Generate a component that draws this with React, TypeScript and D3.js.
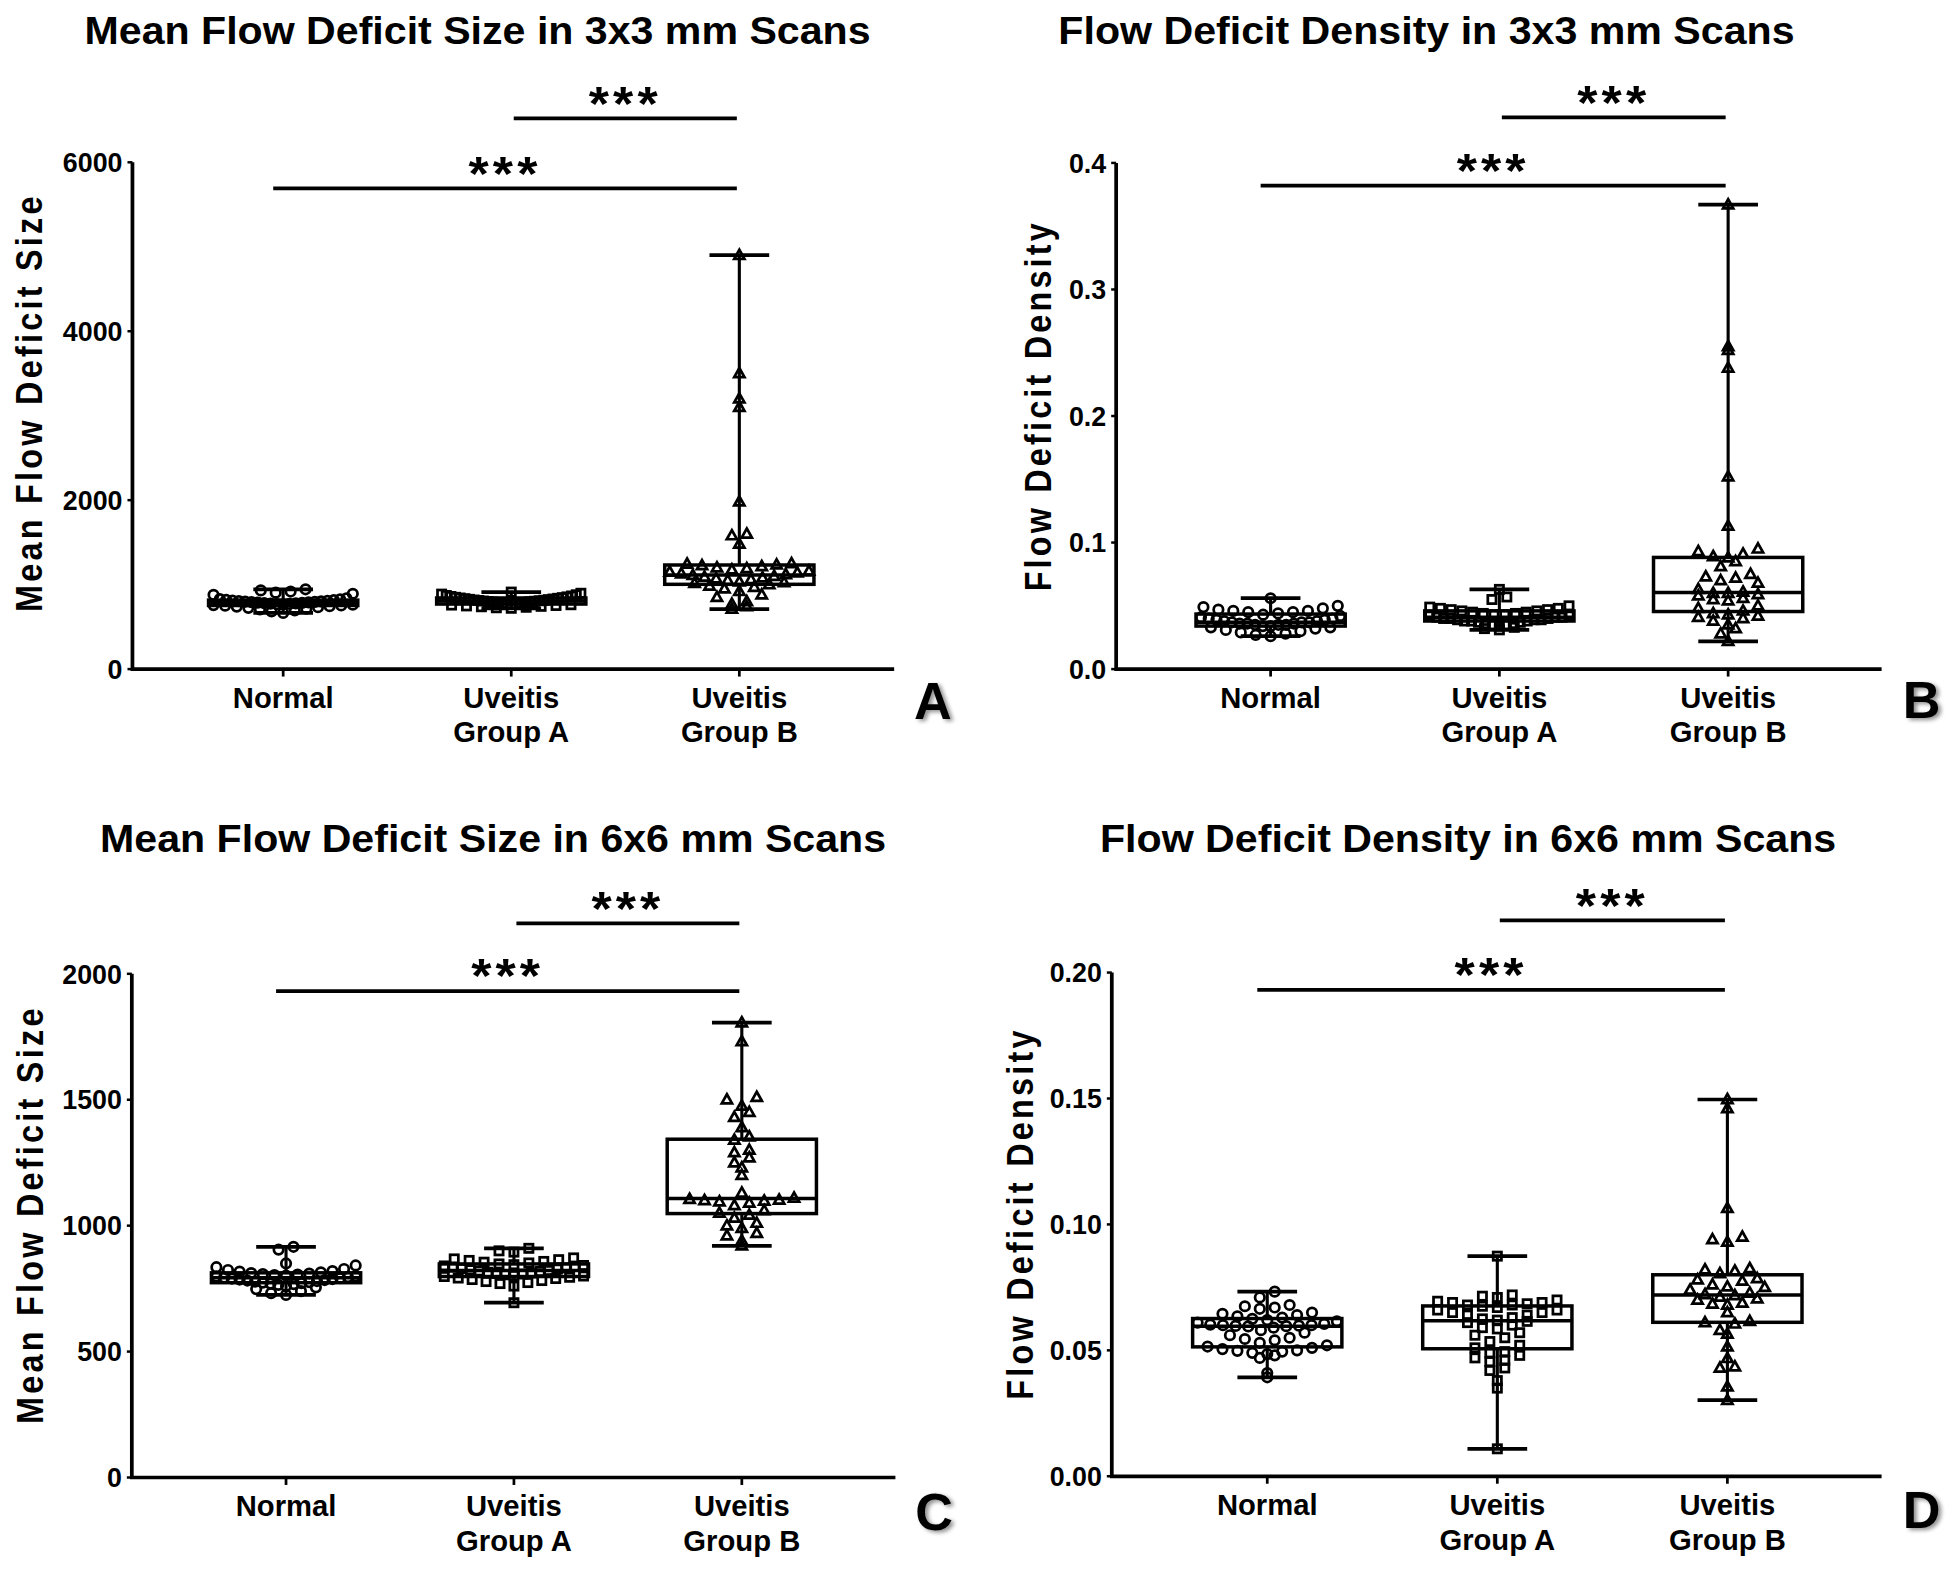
import React from "react";
import * as d3 from "d3";

// ---------- DATA ----------
const categoryLines: string[][] = [["Normal"], ["Uveitis", "Group A"], ["Uveitis", "Group B"]];
const groupShapes = ["circle", "square", "triangle"];

const titles = [
  "Mean Flow Deficit Size in 3x3 mm Scans",
  "Flow Deficit Density in 3x3 mm Scans",
  "Mean Flow Deficit Size in 6x6 mm Scans",
  "Flow Deficit Density in 6x6 mm Scans",
];
const yLabels = ["Mean Flow Deficit Size", "Flow Deficit Density", "Mean Flow Deficit Size", "Flow Deficit Density"];
const panelLetters = ["A", "B", "C", "D"];

const ticksSize3 = [0, 2000, 4000, 6000];
const ticksDens3 = [0, 0.1, 0.2, 0.3, 0.4];
const ticksSize6 = [0, 500, 1000, 1500, 2000];
const ticksDens6 = [0, 0.05, 0.1, 0.15, 0.2];

// Panel A: mean flow deficit size, 3x3
const sizeNormal3 = [945, 932, 918, 905, 892, 880, 838, 830, 825, 820, 816, 812, 808, 805, 802, 799, 796, 793, 790, 787, 784, 781, 778, 775, 772, 769, 766, 762, 758, 754, 750, 745, 740, 733, 725, 716, 706, 695, 682, 665];
const sizeGroupA3 = [912, 898, 888, 880, 872, 866, 860, 855, 850, 846, 842, 838, 834, 830, 826, 822, 818, 815, 812, 809, 806, 803, 800, 797, 794, 790, 786, 782, 778, 774, 770, 766, 762, 758, 753, 748, 743, 738, 732, 726, 720];
const sizeGroupB3 = [4900, 3500, 3200, 3100, 1980, 1600, 1580, 1480, 1250, 1245, 1235, 1225, 1215, 1200, 1190, 1175, 1160, 1150, 1140, 1130, 1120, 1110, 1100, 1090, 1080, 1070, 1060, 1050, 1035, 1025, 1015, 1000, 985, 970, 950, 920, 880, 850, 800, 770, 740, 710];

// Panel B: flow deficit density, 3x3
const densNormal3 = [0.056, 0.05, 0.049, 0.048, 0.047, 0.046, 0.046, 0.045, 0.045, 0.044, 0.043, 0.042, 0.041, 0.04, 0.04, 0.039, 0.039, 0.038, 0.038, 0.037, 0.037, 0.037, 0.036, 0.036, 0.036, 0.035, 0.035, 0.035, 0.034, 0.034, 0.033, 0.033, 0.032, 0.031, 0.03, 0.029, 0.028, 0.027, 0.026];
const densGroupA3 = [0.063, 0.057, 0.055, 0.05, 0.049, 0.048, 0.048, 0.047, 0.047, 0.046, 0.046, 0.045, 0.045, 0.044, 0.044, 0.043, 0.043, 0.042, 0.042, 0.041, 0.041, 0.041, 0.04, 0.04, 0.04, 0.039, 0.039, 0.039, 0.038, 0.038, 0.038, 0.037, 0.037, 0.036, 0.036, 0.035, 0.035, 0.034, 0.033, 0.032, 0.031];
const densGroupB3 = [0.367, 0.255, 0.252, 0.238, 0.152, 0.113, 0.095, 0.093, 0.091, 0.089, 0.088, 0.085, 0.081, 0.075, 0.073, 0.072, 0.07, 0.068, 0.063, 0.061, 0.06, 0.06, 0.059, 0.058, 0.056, 0.055, 0.054, 0.05, 0.048, 0.046, 0.044, 0.043, 0.042, 0.041, 0.04, 0.038, 0.035, 0.032, 0.028, 0.022];

// Panel C: mean flow deficit size, 6x6
const sizeNormal6 = [916, 905, 850, 842, 835, 828, 824, 820, 818, 815, 812, 810, 808, 806, 804, 802, 800, 798, 796, 794, 792, 790, 788, 786, 784, 782, 780, 778, 776, 774, 772, 770, 768, 765, 760, 755, 748, 740, 732, 725];
const sizeGroupA6 = [910, 900, 895, 872, 868, 865, 862, 858, 855, 852, 848, 845, 842, 840, 838, 835, 832, 830, 828, 825, 822, 820, 818, 815, 812, 810, 808, 805, 802, 800, 798, 795, 792, 790, 786, 782, 778, 774, 770, 760, 694];
const sizeGroupB6 = [1806, 1731, 1510, 1500, 1475, 1450, 1430, 1390, 1353, 1340, 1300, 1290, 1270, 1250, 1230, 1200, 1130, 1110, 1105, 1102, 1100, 1098, 1095, 1090, 1080, 1060, 1050, 1042, 1030, 1010, 1000, 990, 970, 960, 940, 920];

// Panel D: flow deficit density, 6x6
const densNormal6 = [0.0733, 0.071, 0.068, 0.0675, 0.067, 0.0665, 0.065, 0.0645, 0.064, 0.0635, 0.063, 0.0625, 0.062, 0.0615, 0.061, 0.0605, 0.0602, 0.06, 0.06, 0.0598, 0.0597, 0.0596, 0.0595, 0.059, 0.058, 0.057, 0.056, 0.055, 0.0545, 0.054, 0.053, 0.052, 0.0515, 0.051, 0.0505, 0.05, 0.0498, 0.0495, 0.049, 0.0485, 0.048, 0.047, 0.041, 0.0393];
const densGroupA6 = [0.0874, 0.072, 0.0715, 0.071, 0.07, 0.0695, 0.069, 0.069, 0.0685, 0.068, 0.068, 0.0675, 0.067, 0.066, 0.066, 0.065, 0.065, 0.064, 0.064, 0.063, 0.0625, 0.062, 0.0615, 0.061, 0.06, 0.059, 0.0585, 0.057, 0.056, 0.055, 0.0535, 0.052, 0.051, 0.0495, 0.049, 0.048, 0.047, 0.046, 0.0455, 0.043, 0.042, 0.038, 0.035, 0.0109];
const densGroupB6 = [0.1496, 0.146, 0.1064, 0.095, 0.094, 0.093, 0.0825, 0.082, 0.0815, 0.0805, 0.0785, 0.078, 0.0775, 0.076, 0.0752, 0.075, 0.074, 0.0728, 0.0722, 0.0718, 0.0712, 0.0705, 0.07, 0.0688, 0.0684, 0.068, 0.065, 0.0615, 0.061, 0.0605, 0.058, 0.0565, 0.0514, 0.0468, 0.0435, 0.043, 0.0355, 0.0302];

// significance brackets (group indices and bar level in data units)
const sigLabel = "***";
const sigSize3 = [{ from: 0, to: 2, value: 5690 }, { from: 1, to: 2, value: 6520 }];
const sigDens3 = [{ from: 0, to: 2, value: 0.382 }, { from: 1, to: 2, value: 0.436 }];
const sigSize6 = [{ from: 0, to: 2, value: 1931 }, { from: 1, to: 2, value: 2200 }];
const sigDens6 = [{ from: 0, to: 2, value: 0.1931 }, { from: 1, to: 2, value: 0.2207 }];

// ---------- STYLE / LAYOUT ----------
const FONT = "'Liberation Sans', Arial, Helvetica, sans-serif";

type Layout = { axisX: number; yTop: number; yBottom: number; xEnd: number; cat0: number; cat2: number };

function swarm(values: number[], y: (v: number) => number, binH: number, step: number, maxHalf: number) {
  const pts = values.map((v) => ({ v, py: y(v), dx: 0 }));
  const bins = d3.group(pts, (p) => Math.floor(p.py / binH));
  for (const [, arr] of bins) {
    arr.sort((a, b) => a.v - b.v);
    const k = arr.length;
    const s = k > 1 ? Math.min(step, (2 * maxHalf) / (k - 1)) : step;
    const slots: number[] = [];
    for (let i = 0; i < k; i++) slots.push((i - (k - 1) / 2) * s);
    slots.sort((a, b) => Math.abs(a) - Math.abs(b) || a - b);
    arr.forEach((p, i) => (p.dx = slots[i]));
  }
  return pts;
}

function Marker({ shape, x, y }: { shape: string; x: number; y: number }) {
  const common = { fill: "none", stroke: "#000", strokeWidth: 2.2 };
  if (shape === "circle") return <circle cx={x} cy={y} r={3.8} {...common} />;
  if (shape === "square") return <rect x={x - 3.3} y={y - 3.3} width={6.6} height={6.6} {...common} />;
  return <path d={`M${x},${y - 4.4} L${x + 4.1},${y + 2.9} L${x - 4.1},${y + 2.9} Z`} {...common} strokeLinejoin="miter" />;
}

function Panel(props: any) {
  const { layout, yMax, ticks, fmt, title, titleX, titleY, titleW, yLabel, yLabelX, yLabelY, yLabelLen, groups, sig, letter, letterX, letterY } = props;
  const L: Layout = layout;
  const y = d3.scaleLinear().domain([0, yMax]).range([L.yBottom, L.yTop]);
  const x = d3.scalePoint<number>().domain([0, 1, 2]).range([L.cat0, L.cat2]);
  const boxHalf = 60;
  const capHalf = 24;

  return (
    <g fontFamily={FONT} fontWeight="bold" fill="#000">
      <text x={titleX} y={titleY} textAnchor="middle" fontSize={31} textLength={titleW} lengthAdjust="spacingAndGlyphs">
        {title}
      </text>
      <text
        transform={`translate(${yLabelX},${yLabelY}) rotate(-90) scale(1,1.12)`}
        textAnchor="middle"
        fontSize={26}
        textLength={yLabelLen}
        lengthAdjust="spacing"
      >
        {yLabel}
      </text>

      {groups.map((vals: number[], gi: number) => {
        const cx = x(gi)!;
        const pts = swarm(vals, y, 9, 12, 56);
        return (
          <g key={"p" + gi}>
            {pts.map((p, i) => (
              <Marker key={i} shape={groupShapes[gi]} x={cx + p.dx} y={p.py} />
            ))}
          </g>
        );
      })}

      {groups.map((vals: number[], gi: number) => {
        const cx = x(gi)!;
        const s = [...vals].sort((a, b) => a - b);
        const q1 = d3.quantileSorted(s, 0.25)!;
        const med = d3.quantileSorted(s, 0.5)!;
        const q3 = d3.quantileSorted(s, 0.75)!;
        const mn = s[0];
        const mx = s[s.length - 1];
        return (
          <g key={"b" + gi} stroke="#000" fill="none">
            <line x1={cx} x2={cx} y1={y(q3)} y2={y(mx)} strokeWidth={2.5} />
            <line x1={cx} x2={cx} y1={y(q1)} y2={y(mn)} strokeWidth={2.5} />
            <line x1={cx - capHalf} x2={cx + capHalf} y1={y(mx)} y2={y(mx)} strokeWidth={3} />
            <line x1={cx - capHalf} x2={cx + capHalf} y1={y(mn)} y2={y(mn)} strokeWidth={3} />
            <rect x={cx - boxHalf} y={y(q3)} width={boxHalf * 2} height={Math.max(0.5, y(q1) - y(q3))} strokeWidth={2.8} />
            <line x1={cx - boxHalf} x2={cx + boxHalf} y1={y(med)} y2={y(med)} strokeWidth={2.8} />
          </g>
        );
      })}

      <path d={`M${L.axisX},${L.yTop} V${L.yBottom} H${L.xEnd}`} fill="none" stroke="#000" strokeWidth={3} />
      {ticks.map((t: number) => (
        <g key={"yt" + t}>
          <line x1={L.axisX - 4} x2={L.axisX} y1={y(t)} y2={y(t)} stroke="#000" strokeWidth={2} />
          <text transform={`translate(${L.axisX - 8},${y(t) + 7.8}) scale(0.98,1)`} textAnchor="end" fontSize={22}>
            {fmt(t)}
          </text>
        </g>
      ))}
      {categoryLines.map((lines, gi) => (
        <g key={"xt" + gi}>
          <line x1={x(gi)!} x2={x(gi)!} y1={L.yBottom} y2={L.yBottom + 6} stroke="#000" strokeWidth={2.2} />
          {lines.map((ln, li) => (
            <text key={li} x={x(gi)!} y={L.yBottom + 31 + li * 28} textAnchor="middle" fontSize={23.5}>
              {ln}
            </text>
          ))}
        </g>
      ))}

      {sig.map((s: any, i: number) => {
        const x1 = x(s.from)! + (s.from === 0 ? -8 : 2);
        const x2 = x(s.to)! - 2;
        const yy = y(s.value);
        return (
          <g key={"s" + i}>
            <line x1={x1} x2={x2} y1={yy} y2={yy} stroke="#000" strokeWidth={3} />
            <text transform={`translate(${(x1 + x2) / 2},${yy + 1}) scale(1.1,1)`} textAnchor="middle" fontSize={38} fontWeight="bold" letterSpacing={3}>
              {sigLabel}
            </text>
          </g>
        );
      })}

      <text x={letterX} y={letterY} fontSize={42} fontWeight="bold" filter="url(#lshadow)">
        {letter}
      </text>
    </g>
  );
}

export default function App() {
  const panels = [
    {
      layout: { axisX: 106.5, yTop: 130.5, yBottom: 538, xEnd: 719, cat0: 227.7, cat2: 594.5 },
      yMax: 6000, ticks: ticksSize3, fmt: d3.format("d"),
      title: titles[0], titleX: 384, titleY: 35, titleW: 632,
      yLabel: yLabels[0], yLabelX: 34, yLabelY: 325, yLabelLen: 334,
      groups: [sizeNormal3, sizeGroupA3, sizeGroupB3], sig: sigSize3,
      letter: panelLetters[0], letterX: 735, letterY: 578,
    },
    {
      layout: { axisX: 897.5, yTop: 131, yBottom: 538, xEnd: 1513, cat0: 1021.7, cat2: 1389.6 },
      yMax: 0.4, ticks: ticksDens3, fmt: d3.format(".1f"),
      title: titles[1], titleX: 1147, titleY: 35, titleW: 592,
      yLabel: yLabels[1], yLabelX: 845, yLabelY: 327.5, yLabelLen: 296,
      groups: [densNormal3, densGroupA3, densGroupB3], sig: sigDens3,
      letter: panelLetters[1], letterX: 1530, letterY: 577,
    },
    {
      layout: { axisX: 106, yTop: 783, yBottom: 1188, xEnd: 720, cat0: 230, cat2: 596.5 },
      yMax: 2000, ticks: ticksSize6, fmt: d3.format("d"),
      title: titles[2], titleX: 396.5, titleY: 685, titleW: 632,
      yLabel: yLabels[2], yLabelX: 34.5, yLabelY: 978, yLabelLen: 334,
      groups: [sizeNormal6, sizeGroupA6, sizeGroupB6], sig: sigSize6,
      letter: panelLetters[2], letterX: 736, letterY: 1230,
    },
    {
      layout: { axisX: 894, yTop: 782, yBottom: 1187, xEnd: 1513, cat0: 1019, cat2: 1389 },
      yMax: 0.2, ticks: ticksDens6, fmt: d3.format(".2f"),
      title: titles[3], titleX: 1180.5, titleY: 685, titleW: 592,
      yLabel: yLabels[3], yLabelX: 831, yLabelY: 977, yLabelLen: 297,
      groups: [densNormal6, densGroupA6, densGroupB6], sig: sigDens6,
      letter: panelLetters[3], letterX: 1530, letterY: 1229,
    },
  ];

  return (
    <div style={{ position: "absolute", left: 0, top: 0, width: 1950, height: 1577, background: "#fff" }}>
      <svg width={1950} height={1577} viewBox="0 0 1568 1268" preserveAspectRatio="none" style={{ display: "block" }}>
        <defs>
          <filter id="lshadow" x="-30%" y="-30%" width="170%" height="170%">
            <feGaussianBlur in="SourceAlpha" stdDeviation="1.8" />
            <feOffset dx="2.5" dy="2" result="off" />
            <feComponentTransfer in="off" result="soft">
              <feFuncA type="linear" slope="0.45" />
            </feComponentTransfer>
            <feMerge>
              <feMergeNode in="soft" />
              <feMergeNode in="SourceGraphic" />
            </feMerge>
          </filter>
        </defs>
        <rect x={0} y={0} width={1568} height={1268} fill="#fff" />
        {panels.map((p, i) => (
          <Panel key={i} {...p} />
        ))}
      </svg>
    </div>
  );
}
